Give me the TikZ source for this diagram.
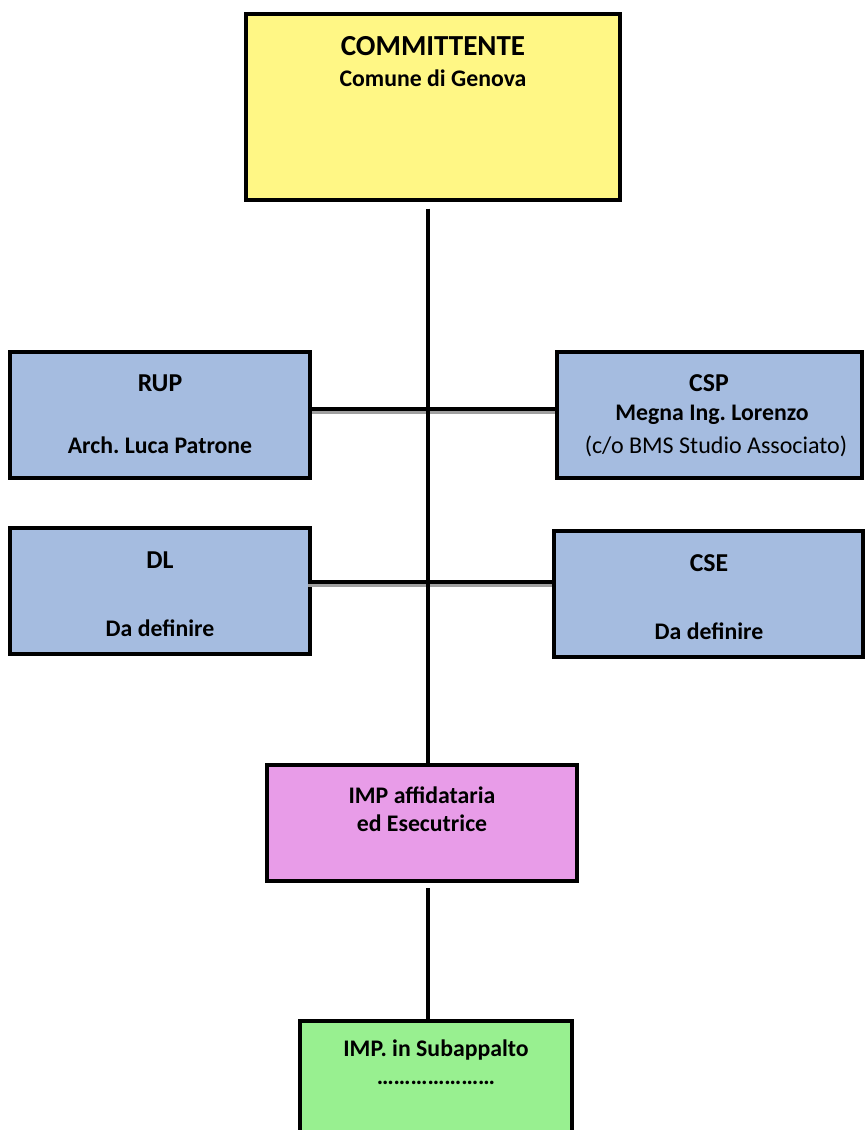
\documentclass[tikz,border=0pt]{standalone}
\usepackage{fontspec}
\setmainfont{Carlito}
\frenchspacing

\definecolor{commyellow}{RGB}{255,247,133}
\definecolor{roleblue}{RGB}{165,188,224}
\definecolor{imppink}{RGB}{232,156,232}
\definecolor{subgreen}{RGB}{152,240,144}

\begin{document}
\begin{tikzpicture}[x=0.03cm, y=-0.03cm,
  box/.style={draw, line width=3.4pt, inner sep=0pt},
  role/.style={box, fill=roleblue, minimum height=3.78cm},
  bigtitle/.style={font=\bfseries\fontsize{24.8}{28}\selectfont},
  title/.style={font=\bfseries\fontsize{22}{26}\selectfont},
  subline/.style={font=\bfseries\fontsize{20.3}{24}\selectfont},
  plainline/.style={font=\fontsize{20.5}{24}\selectfont},
  link/.style={line width=3.6pt},
  shadowed/.style={preaction={draw=gray!75, line width=3.4pt, transform canvas={yshift=-2.6pt}}}]

\useasboundingbox (0,0) rectangle (865,1130);

% boxes
\node[box, fill=commyellow, minimum width=11.22cm, minimum height=5.58cm] (comm) at (433,107) {};
\node[role, minimum width=9cm] (rup) at (160,415) {};
\node[role, minimum width=9.15cm] (csp) at (709.5,415) {};
\node[role, minimum width=9cm] (dl) at (160,591) {};
\node[role, minimum width=9.27cm] (cse) at (708.5,594) {};
\node[box, fill=imppink, minimum width=9.3cm, minimum height=3.48cm] (imp) at (422,823) {};
\node[box, fill=subgreen, minimum width=8.16cm, minimum height=3.84cm] (sub) at (436,1085) {};

% texts
\node[bigtitle] (comm-title) at (433,46) {COMMITTENTE};
\node[subline] (comm-name) at (433,78) {Comune di Genova};

\node[title] (rup-title) at (160,383) {RUP};
\node[subline] (rup-name) at (160,445) {Arch. Luca Patrone};

\node[title] (csp-title) at (709,383) {CSP};
\node[subline] (csp-name) at (712,415) {Megna Ing. Lorenzo};
\node[plainline] (csp-firm) at (716,446) {(c/o BMS Studio Associato)};

\node[title] (dl-title) at (160,560) {DL};
\node[subline] (dl-name) at (160,628) {Da definire};

\node[title] (cse-title) at (709,563) {CSE};
\node[subline] (cse-name) at (709,631) {Da definire};

\node[subline] (imp-line1) at (422,795) {IMP affidataria};
\node[subline] (imp-line2) at (422,823) {ed Esecutrice};

\node[subline] (sub-title) at (436,1050) {IMP. in Subappalto};
\node[subline] (sub-name) at (436,1083) {…………………};

% connectors
\coordinate (spine) at (428,0);
\draw[link, shadowed] ([yshift=0.18cm]rup.east) -- ([yshift=0.18cm]rup.east -| csp.west);
\draw[link, shadowed] ([xshift=-0.12cm, yshift=0.27cm]dl.east) -- ([yshift=0.27cm]dl.east -| cse.west);
\draw[link, shorten <=0.2cm] (comm.south -| spine) -- (imp.north -| spine);
\draw[link, shorten <=0.15cm] (imp.south -| spine) -- (sub.north -| spine);

\end{tikzpicture}
\end{document}
